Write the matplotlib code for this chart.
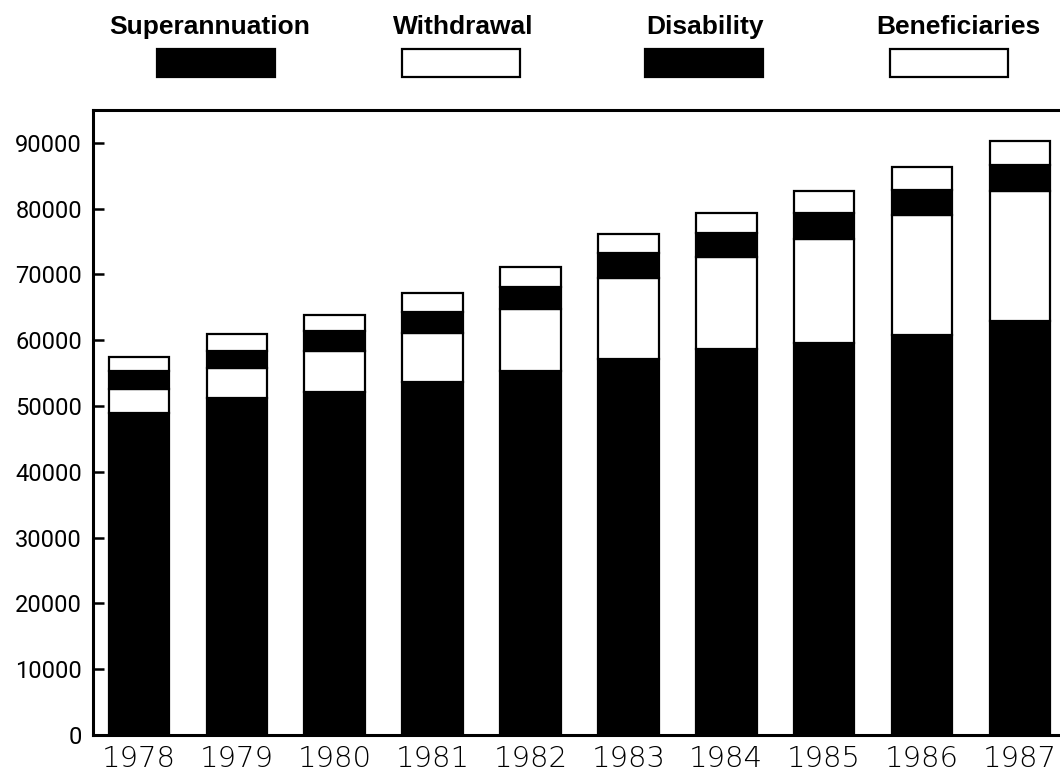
import matplotlib
matplotlib.use("Agg")
import matplotlib.pyplot as plt
from matplotlib.patches import Rectangle
import numpy as np

years = ["1978", "1979", "1980", "1981", "1982", "1983", "1984", "1985", "1986", "1987"]
superannuation = [48900, 51200, 52200, 53700, 55400, 57100, 58600, 59600, 60800, 63000]
withdrawal = [3700, 4550, 6100, 7440, 9330, 12400, 14070, 15860, 18240, 19700]
disability = [2800, 2650, 3150, 3190, 3340, 3700, 3650, 3900, 3800, 3960]
beneficiaries = [2000, 2500, 2450, 2890, 3130, 2890, 3040, 3340, 3540, 3640]
series_names = ["Superannuation", "Withdrawal", "Disability", "Beneficiaries"]
series_colors = ["black", "white", "black", "white"]
yticks = [0, 10000, 20000, 30000, 40000, 50000, 60000, 70000, 80000, 90000]

W, H = 1060, 779
fig = plt.figure(figsize=(W / 100, H / 100), dpi=100)
ax = fig.add_axes([93 / W, 44 / H, (W - 93) / W, 625 / H])

x = np.arange(len(years))
bottom = np.zeros(len(years))
for vals, col in zip([superannuation, withdrawal, disability, beneficiaries], series_colors):
    ax.bar(x, vals, bottom=bottom, width=0.62, color=col, edgecolor="black", linewidth=1.6)
    bottom += np.array(vals)

ax.set_xlim(-0.47, 9.41)
ax.set_ylim(0, 95000)
ax.set_yticks(yticks)
ax.set_yticklabels([str(v) for v in yticks], fontsize=17, family=["Roboto", "DejaVu Sans"])
ax.set_xticks(x)
ax.set_xticklabels(years, fontsize=21, family=["DejaVu Sans"], fontweight="light",
                   color="black")
ax.tick_params(axis="y", direction="in", length=8, width=1.8, pad=8)
ax.tick_params(axis="x", length=0, pad=7)
for s in ["left", "bottom", "top"]:
    ax.spines[s].set_linewidth(2.2)
ax.spines["right"].set_visible(False)

# legend drawn at top
text_cx = [210, 463, 705, 958]
patch_x = [157, 402, 645, 890]
for name, tx, px, col in zip(series_names, text_cx, patch_x, series_colors):
    fig.text(tx / W, 1 - 34 / H, name, fontsize=19, fontweight="bold",
             family=["Liberation Sans", "DejaVu Sans"], va="baseline", ha="center")
    fig.add_artist(Rectangle((px / W, 1 - 77 / H), 118 / W, 28 / H, transform=fig.transFigure,
                             facecolor=col, edgecolor="black", linewidth=1.6))

fig.savefig("out.png", dpi=100)
